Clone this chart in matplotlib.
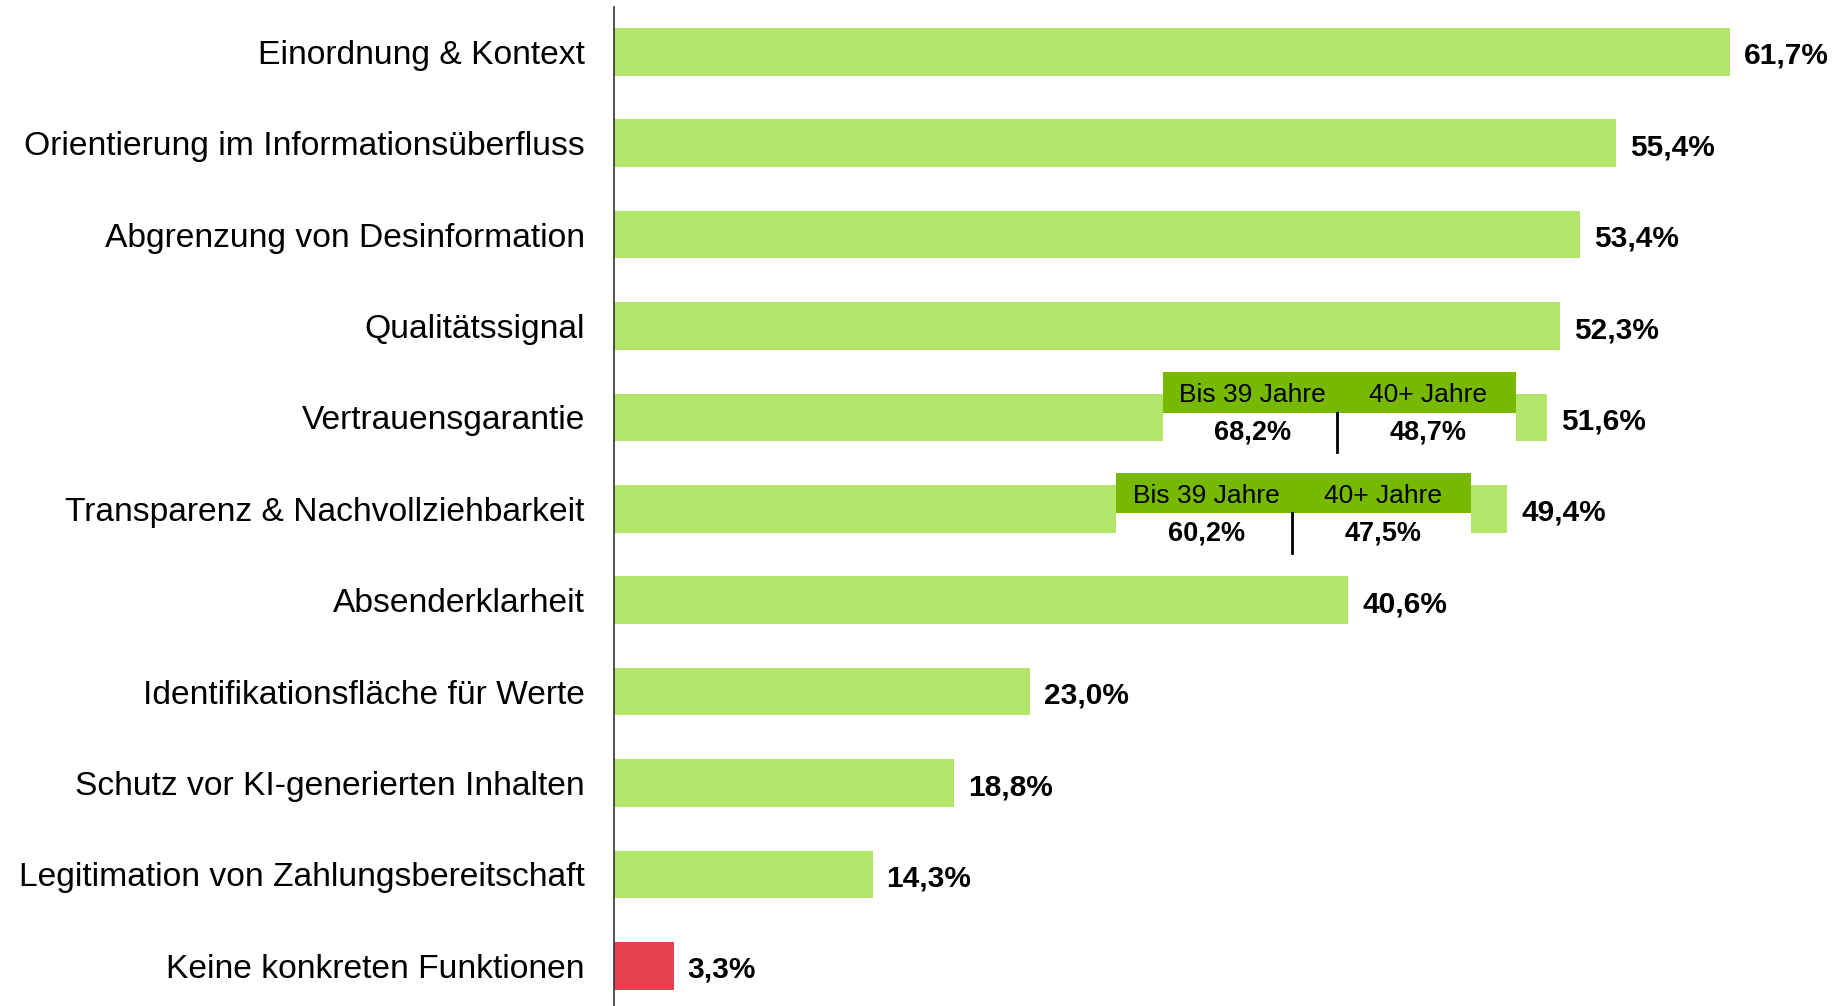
import matplotlib
matplotlib.use('Agg')
import matplotlib.pyplot as plt
from matplotlib.patches import Rectangle

plt.rcParams['font.family'] = ['Liberation Sans', 'DejaVu Sans']

# data
categories = [
    'Einordnung & Kontext',
    'Orientierung im Informationsüberfluss',
    'Abgrenzung von Desinformation',
    'Qualitätssignal',
    'Vertrauensgarantie',
    'Transparenz & Nachvollziehbarkeit',
    'Absenderklarheit',
    'Identifikationsfläche für Werte',
    'Schutz vor KI-generierten Inhalten',
    'Legitimation von Zahlungsbereitschaft',
    'Keine konkreten Funktionen',
]
values = [61.7, 55.4, 53.4, 52.3, 51.6, 49.4, 40.6, 23.0, 18.8, 14.3, 3.3]

# age breakdown callouts: row index, values for the two age groups
age_groups = ['Bis 39 Jahre', '40+ Jahre']
age_rows = [4, 5]
age_values = [[68.2, 48.7], [60.2, 47.5]]

GREEN = '#B3E56A'
RED = '#E64150'
DARK = '#76B900'

colors = [GREEN] * (len(values) - 1) + [RED]

def fmt(v):
    return f'{v:.1f}'.replace('.', ',') + '%'

fig = plt.figure(figsize=(18.42, 10.06), dpi=100)
ax = fig.add_axes([0.3333, 0.0, 0.6667, 0.993])

y = list(range(len(categories)))
ax.barh(y, values, height=0.52, color=colors, zorder=2)

for yi, v in zip(y, values):
    ax.annotate(fmt(v), (v, yi), xytext=(10, -3), textcoords='offset points',
                ha='left', va='center', fontsize=21.5, fontweight='bold')

# callout boxes (x range in data units, header top/bottom offsets in rows)
box_x = [(30.35, 49.86), (27.75, 47.4)]
box_top = [-0.50, -0.39]
box_bot = [-0.05, 0.05]
for row, vals, (x0, x1), bt, bb in zip(age_rows, age_values, box_x, box_top, box_bot):
    yc = row
    # white patch hiding the bar under the header
    ax.add_patch(Rectangle((x0, yc + bb), x1 - x0, 0.34, color='white', zorder=3, lw=0))
    ax.add_patch(Rectangle((x0, yc + bt), x1 - x0, bb - bt, color=DARK, zorder=4, lw=0))
    xm = (x0 + x1) / 2
    xl = x0 + (x1 - x0) * 0.255
    xr = x0 + (x1 - x0) * 0.752
    ax.text(xl, yc + (bt + bb) / 2 + 0.03, age_groups[0], ha='center', va='center',
            fontsize=19, zorder=5)
    ax.text(xr, yc + (bt + bb) / 2 + 0.03, age_groups[1], ha='center', va='center',
            fontsize=19, zorder=5)
    ax.text(xl, yc + bb + 0.22, fmt(vals[0]), ha='center', va='center',
            fontsize=19.5, fontweight='bold', zorder=5)
    ax.text(xr, yc + bb + 0.22, fmt(vals[1]), ha='center', va='center',
            fontsize=19.5, fontweight='bold', zorder=5)
    ax.plot([xm - 0.1, xm - 0.1], [yc + bb, yc + bb + 0.43], color='black', lw=2, zorder=5)

ax.set_yticks(y)
ax.set_yticklabels(categories, fontsize=24.2)
ax.set_ylim(10.44, -0.49)
ax.set_xlim(0, 67.9)
ax.tick_params(axis='y', length=0, pad=21)
ax.set_xticks([])
for s in ['top', 'right', 'bottom']:
    ax.spines[s].set_visible(False)
ax.spines['left'].set_color('#333333')
ax.spines['left'].set_linewidth(1.2)

fig.savefig('out.png', dpi=100)
